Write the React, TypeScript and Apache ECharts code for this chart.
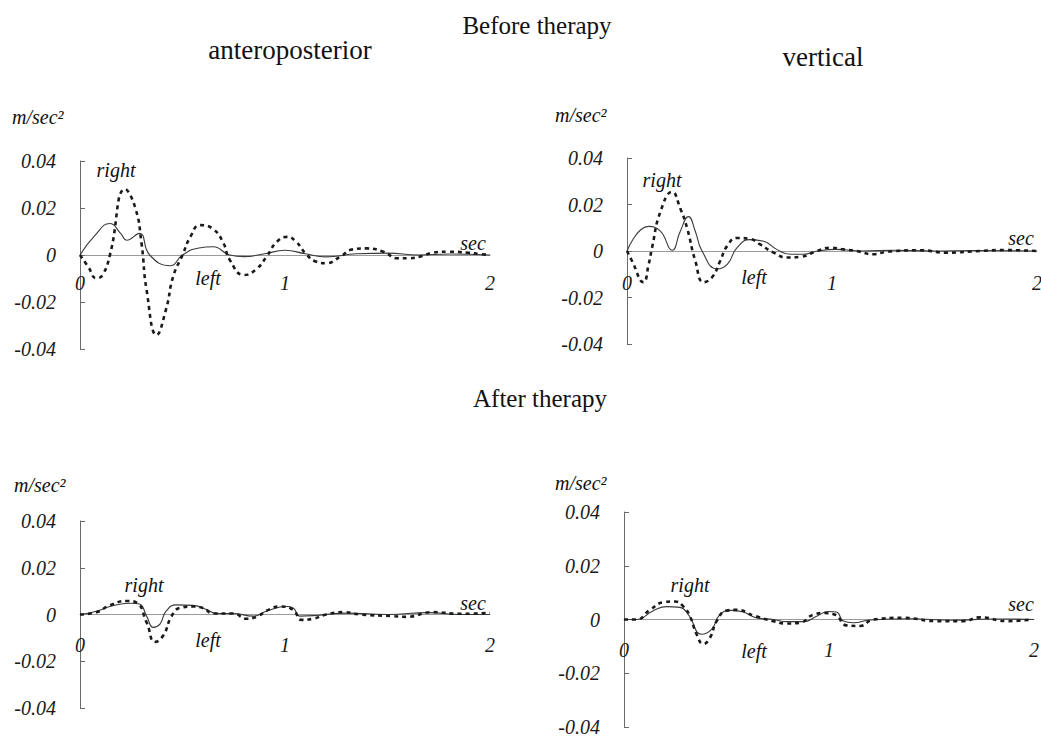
import { useEffect, useRef } from "react";
import * as echarts from "echarts";

// time (sec), acceleration (m/sec^2)
const timeTicks = [0, 1, 2];
const accelTicks = [-0.04, -0.02, 0, 0.02, 0.04];

// Before therapy – anteroposterior
const apBeforeLeft: [number, number][] = [
  [0, 0], [0.07, 0.008], [0.146, 0.0134], [0.2, 0.009], [0.228, 0.0063], [0.29, 0.0092],
  [0.34, 0], [0.44, -0.0046], [0.5, 0], [0.58, 0.003], [0.65, 0.0035], [0.73, 0],
  [0.8, -0.0007], [0.9, 0.0005], [1.0, 0.002], [1.1, 0.0005], [1.2, -0.0008],
  [1.35, 0.0005], [1.5, 0.0008], [1.65, 0], [1.8, 0.0004], [2.0, 0],
];
const apBeforeRight: [number, number][] = [
  [0, 0], [0.04, -0.005], [0.08, -0.0099], [0.11, -0.0085], [0.146, 0], [0.22, 0.028],
  [0.27, 0.02], [0.3, 0.005], [0.325, -0.015], [0.374, -0.034], [0.42, -0.023],
  [0.455, -0.009], [0.5, 0], [0.54, 0.008], [0.585, 0.0127], [0.65, 0.011], [0.7, 0.005],
  [0.73, -0.002], [0.8, -0.0085], [0.86, -0.006], [0.91, -0.0007], [0.96, 0.0056],
  [1.01, 0.0077], [1.05, 0.006], [1.1, 0.0007], [1.15, -0.0028], [1.2, -0.0035],
  [1.27, -0.0007], [1.33, 0.0024], [1.4, 0.0028], [1.48, 0.0014], [1.55, -0.0014],
  [1.6, -0.0014], [1.67, -0.0004], [1.72, 0.001], [1.8, 0.0014], [1.89, 0.001],
  [1.95, 0.0004], [2.0, 0],
];

// Before therapy – vertical
const vtBeforeLeft: [number, number][] = [
  [0, 0], [0.106, 0.0106], [0.163, 0.0085], [0.22, 0.0003], [0.26, 0.0085], [0.3, 0.0148],
  [0.333, 0.0085], [0.366, 0], [0.44, -0.0077], [0.49, -0.0056], [0.537, 0.0014],
  [0.6, 0.0049], [0.667, 0.0042], [0.73, 0.0007], [0.8, -0.0014], [0.86, -0.0014],
  [0.93, 0], [1.02, 0.0007], [1.15, 0], [1.3, 0.0003], [1.5, 0], [1.7, 0.0002], [2.0, 0],
];
const vtBeforeRight: [number, number][] = [
  [0, 0], [0.024, -0.0042], [0.08, -0.0134], [0.106, -0.0056], [0.122, 0.0014],
  [0.163, 0.0169], [0.22, 0.0254], [0.26, 0.0183], [0.293, 0.0099], [0.333, -0.0042],
  [0.374, -0.0134], [0.415, -0.0113], [0.455, -0.0042], [0.488, 0.0021], [0.537, 0.0056],
  [0.6, 0.0052], [0.65, 0.0028], [0.715, -0.0007], [0.78, -0.0028], [0.845, -0.0025],
  [0.927, 0], [0.99, 0.0014], [1.057, 0.0007], [1.12, 0], [1.2, -0.0014], [1.27, -0.0003],
  [1.43, 0.0003], [1.56, -0.0007], [1.72, 0], [1.84, 0.0004], [2.0, 0],
];

// After therapy – anteroposterior
const apAfterLeft: [number, number][] = [
  [0, 0], [0.08, 0.0014], [0.146, 0.0034], [0.244, 0.0048], [0.29, 0.0045], [0.325, -0.0007],
  [0.358, -0.0055], [0.39, -0.0041], [0.42, 0.0014], [0.47, 0.0041], [0.553, 0.0039],
  [0.618, 0.0021], [0.667, 0.0004], [0.748, 0.0004], [0.846, -0.0007], [0.91, 0.0014],
  [1.008, 0.0034], [1.04, 0.0028], [1.073, -0.0007], [1.154, -0.0004], [1.3, 0.0006],
  [1.5, 0], [1.7, 0.0008], [1.85, 0], [2.0, 0],
];
const apAfterRight: [number, number][] = [
  [0, 0], [0.08, 0.001], [0.146, 0.0039], [0.228, 0.0058], [0.276, 0.0051], [0.325, -0.0034],
  [0.366, -0.0117], [0.406, -0.009], [0.447, -0.0007], [0.488, 0.0028], [0.553, 0.0034],
  [0.6, 0.0028], [0.65, 0.0004], [0.748, 0.0004], [0.813, -0.0018], [0.86, -0.001],
  [0.927, 0.0023], [0.976, 0.0034], [1.04, 0.002], [1.08, -0.0023], [1.138, -0.0018],
  [1.2, 0], [1.285, 0.001], [1.366, 0], [1.528, -0.0007], [1.593, -0.001], [1.72, 0.001],
  [1.853, 0.0003], [2.0, 0.0007],
];

// After therapy – vertical
const vtAfterLeft: [number, number][] = [
  [0, 0], [0.06, 0], [0.143, 0.0033], [0.208, 0.0048], [0.273, 0.0045], [0.314, 0.0018],
  [0.379, -0.0055], [0.428, -0.0036], [0.468, 0.0018], [0.525, 0.0034], [0.582, 0.0028],
  [0.647, 0.0006], [0.73, 0], [0.793, -0.0008], [0.875, -0.0008], [0.94, 0.0012],
  [0.997, 0.003], [1.037, 0.0028], [1.07, -0.0006], [1.119, -0.0012], [1.2, -0.0002],
  [1.4, 0.0003], [1.6, -0.0003], [1.8, 0.0002], [2.0, 0],
];
const vtAfterRight: [number, number][] = [
  [0, 0], [0.06, 0], [0.127, 0.0036], [0.192, 0.0064], [0.249, 0.0067], [0.29, 0.0048],
  [0.322, 0.0012], [0.354, -0.0055], [0.387, -0.0091], [0.42, -0.0067], [0.452, -0.0006],
  [0.5, 0.0033], [0.55, 0.0036], [0.631, 0.0015], [0.728, -0.0006], [0.793, -0.0015],
  [0.858, -0.0012], [0.924, 0.0018], [0.98, 0.0024], [1.03, 0.0018], [1.086, -0.0022],
  [1.151, -0.0024], [1.216, 0], [1.362, 0.0006], [1.525, -0.0006], [1.655, -0.0006],
  [1.737, 0.0008], [1.867, -0.0006], [1.99, 0],
];

const panels = [
  { left: 80, top: 161, height: 188, labelY: 283, solid: apBeforeLeft, dashed: apBeforeRight },
  { left: 627, top: 158, height: 186, labelY: 283, solid: vtBeforeLeft, dashed: vtBeforeRight },
  { left: 80, top: 521, height: 187, labelY: 645, solid: apAfterLeft, dashed: apAfterRight },
  { left: 624, top: 512, height: 215, labelY: 650, solid: vtAfterLeft, dashed: vtAfterRight },
];

const SERIF = "'Liberation Serif', 'DejaVu Serif', serif";

export default function App() {
  const ref = useRef<HTMLDivElement>(null);

  useEffect(() => {
    if (!ref.current) return;
    const chart = echarts.init(ref.current, undefined, { renderer: "svg" });

    const grid = panels.map((p) => ({
      left: p.left,
      top: p.top,
      width: 410,
      height: p.height,
      outerBoundsMode: "none",
      containLabel: false,
    }));
    const xAxis = panels.map((p, i) => ({
      type: "value",
      gridIndex: i,
      min: timeTicks[0],
      max: timeTicks[timeTicks.length - 1],
      interval: 1,
      axisLine: { show: true, onZero: true, lineStyle: { color: "#9a9a9a", width: 1 } },
      axisTick: { show: false },
      splitLine: { show: false },
      axisLabel: {
        margin: p.labelY - (p.top + p.height) - 10,
        fontFamily: SERIF,
        fontStyle: "italic",
        fontSize: 20,
        color: "#1a1a1a",
        showMinLabel: true,
        showMaxLabel: true,
      },
    }));
    const yAxis = panels.map((_, i) => ({
      type: "value",
      gridIndex: i,
      min: accelTicks[0],
      max: accelTicks[accelTicks.length - 1],
      interval: 0.02,
      axisLine: { show: true, lineStyle: { color: "#6a6a6a", width: 1 } },
      axisTick: { show: true, inside: true, length: 5, lineStyle: { color: "#6a6a6a" } },
      splitLine: { show: false },
      axisLabel: {
        margin: 24,
        fontFamily: SERIF,
        fontStyle: "italic",
        fontSize: 20,
        color: "#1a1a1a",
        formatter: (v: number) => (Math.abs(v) < 1e-9 ? "0" : v.toFixed(2)),
      },
    }));

    const series: any[] = [];
    panels.forEach((p, i) => {
      series.push({
        type: "line",
        xAxisIndex: i,
        yAxisIndex: i,
        data: p.solid,
        smooth: 0.5,
        showSymbol: false,
        lineStyle: { color: "#3a3a3a", width: 1.1 },
      });
      series.push({
        type: "line",
        xAxisIndex: i,
        yAxisIndex: i,
        data: p.dashed,
        smooth: 0.5,
        showSymbol: false,
        lineStyle: { color: "#1a1a1a", width: 2.6, type: [4, 4] },
      });
    });

    const txt = (
      text: string,
      x: number,
      y: number,
      size: number,
      italic: boolean,
      align: string = "center"
    ) => ({
      type: "text",
      x,
      y,
      style: {
        text,
        fontFamily: SERIF,
        fontStyle: italic ? "italic" : "normal",
        fontSize: size,
        fill: "#111",
        align,
        verticalAlign: "middle",
      },
    });

    const graphic = [
      txt("Before therapy", 537, 25, 25, false),
      txt("anteroposterior", 290, 50, 27, false),
      txt("vertical", 823, 57, 27, false),
      txt("After therapy", 540, 398, 25, false),
      txt("m/sec²", 12, 117, 20, true, "left"),
      txt("m/sec²", 555, 115, 20, true, "left"),
      txt("m/sec²", 14, 485, 20, true, "left"),
      txt("m/sec²", 555, 483, 20, true, "left"),
      txt("right", 116, 170, 20, true),
      txt("left", 208, 278, 20, true),
      txt("sec", 473, 243, 20, true),
      txt("right", 662, 180, 20, true),
      txt("left", 754, 277, 20, true),
      txt("sec", 1021, 238, 20, true),
      txt("right", 144, 585, 20, true),
      txt("left", 208, 640, 20, true),
      txt("sec", 473, 603, 20, true),
      txt("right", 690, 585, 20, true),
      txt("left", 754, 651, 20, true),
      txt("sec", 1021, 604, 20, true),
    ];

    chart.setOption({
      animation: false,
      backgroundColor: "#ffffff",
      grid,
      xAxis,
      yAxis,
      series,
      graphic,
    } as any);

    return () => chart.dispose();
  }, []);

  return (
    <div
      ref={ref}
      style={{ position: "fixed", left: 0, top: 0, width: 1041, height: 739, background: "#fff" }}
    />
  );
}
